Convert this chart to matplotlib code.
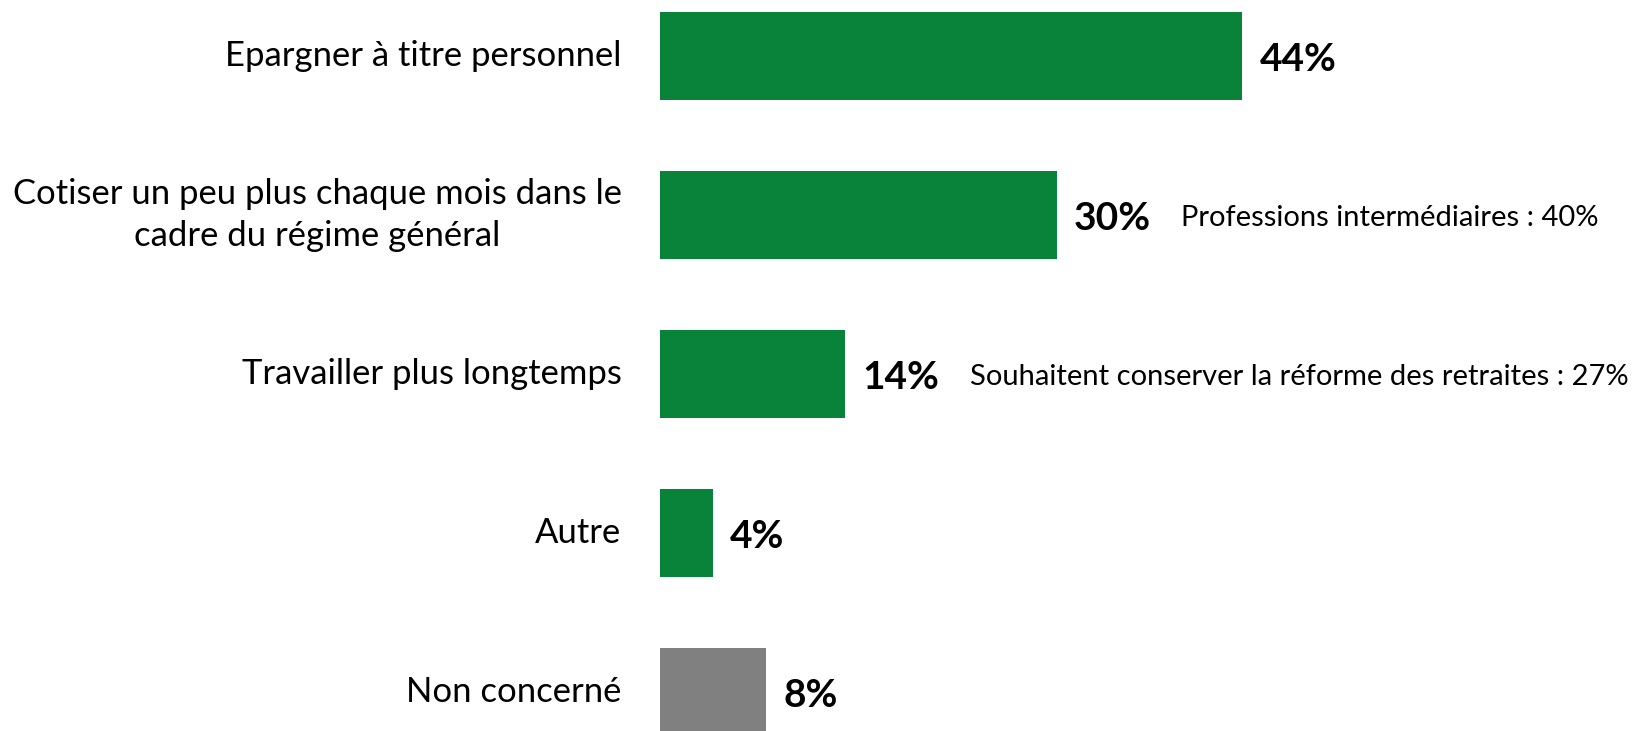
import matplotlib.pyplot as plt

# data
categories = ["Epargner à titre personnel",
              "Cotiser un peu plus chaque mois dans le\ncadre du régime général",
              "Travailler plus longtemps",
              "Autre",
              "Non concerné"]
values = [44, 30, 14, 4, 8]
notes = ["", "Professions intermédiaires : 40%",
         "Souhaitent conserver la réforme des retraites : 27%", "", ""]
colors = ['#0A833A', '#0A833A', '#0A833A', '#0A833A', '#808080']

plt.rcParams['font.family'] = ['Lato', 'DejaVu Sans']

fig = plt.figure(figsize=(16.41, 7.31), dpi=100)
ax = fig.add_axes([660 / 1641, 0, 981 / 1641, 1])

y = list(range(len(values)))
ax.barh(y, values, height=0.553, color=colors)
ax.set_xlim(0, 74.15)
ax.set_ylim(4.245, -0.352)
ax.axis('off')

for i, (v, cat, note) in enumerate(zip(values, categories, notes)):
    ax.text(v + 1.3, i + 0.02, f"{v}%", ha='left', va='center',
            fontsize=28, fontweight='bold')
    ax.text(-2.9, i, cat, ha='right', va='center', fontsize=24.9,
            multialignment='center', linespacing=1.35)
    if note:
        ax.text(v + 9.4, i + 0.02, note, ha='left', va='center', fontsize=21)

fig.savefig('out.png', dpi=100)
